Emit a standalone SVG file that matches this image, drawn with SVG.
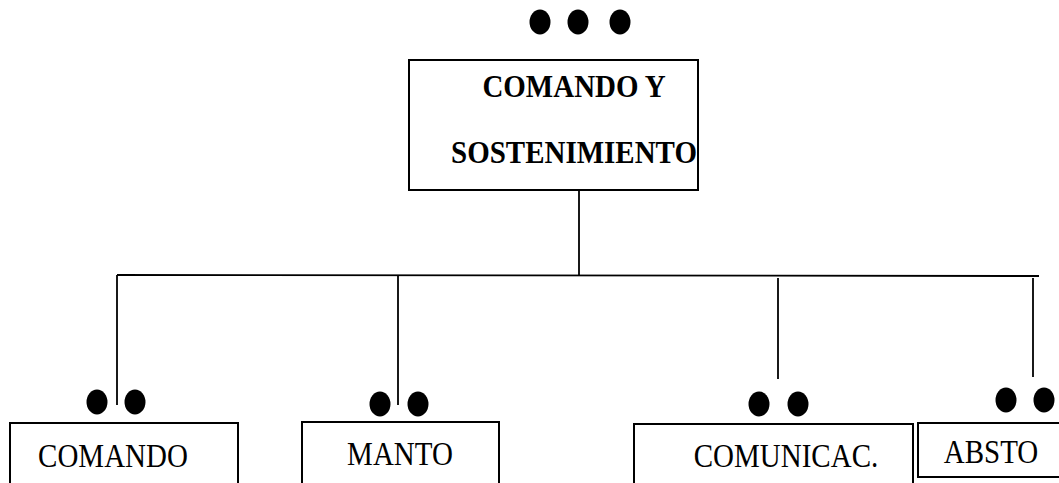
<svg xmlns="http://www.w3.org/2000/svg" width="1059" height="483" viewBox="0 0 1059 483">
<style>
.box{fill:#fff;stroke:#000;stroke-width:2}
.ln{stroke:#000;stroke-width:1.8;fill:none}
.dot{fill:#000}
.b{font-family:"Liberation Serif","Times New Roman",serif;font-weight:bold;font-size:29px;fill:#000}
.r{font-family:"Liberation Serif","Times New Roman",serif;font-size:29px;fill:#000}
</style>
<rect width="1059" height="483" fill="#fff"/>
<g id="connectors">
<line class="ln" x1="579" y1="190" x2="579" y2="275"/>
<line class="ln" x1="117" y1="275" x2="1039" y2="276"/>
<line class="ln" x1="117" y1="275" x2="117" y2="405"/>
<line class="ln" x1="398" y1="275" x2="398" y2="405"/>
<line class="ln" x1="778" y1="278" x2="778" y2="379"/>
<line class="ln" x1="1033" y1="278" x2="1033" y2="377"/>
</g>
<g id="top">
<ellipse class="dot" cx="540" cy="22" rx="10.5" ry="12.5"/>
<ellipse class="dot" cx="578" cy="22" rx="10.5" ry="12.5"/>
<ellipse class="dot" cx="620" cy="22" rx="10.5" ry="12.5"/>
<rect class="box" x="409" y="60" width="289" height="130"/>
<text class="b" transform="translate(574,97) scale(1,1.12)" text-anchor="middle">COMANDO Y</text>
<text class="b" transform="translate(574,163) scale(1,1.12)" text-anchor="middle">SOSTENIMIENTO</text>
</g>
<g id="comando">
<ellipse class="dot" cx="97" cy="402" rx="10.5" ry="12.5"/>
<ellipse class="dot" cx="135" cy="402" rx="10.5" ry="12.5"/>
<rect class="box" x="10" y="423" width="228" height="70"/>
<text class="r" transform="translate(113,467) scale(1,1.15)" text-anchor="middle">COMANDO</text>
</g>
<g id="manto">
<ellipse class="dot" cx="380" cy="404" rx="10.5" ry="12.5"/>
<ellipse class="dot" cx="418" cy="404" rx="10.5" ry="12.5"/>
<rect class="box" x="302" y="422" width="197" height="70"/>
<text class="r" transform="translate(400,465) scale(1,1.15)" text-anchor="middle">MANTO</text>
</g>
<g id="comunicac">
<ellipse class="dot" cx="759" cy="404" rx="10.5" ry="12.5"/>
<ellipse class="dot" cx="798" cy="404" rx="10.5" ry="12.5"/>
<rect class="box" x="634" y="424" width="279" height="70"/>
<text class="r" transform="translate(786,467) scale(1,1.15)" text-anchor="middle">COMUNICAC.</text>
</g>
<g id="absto">
<ellipse class="dot" cx="1006" cy="400" rx="10.5" ry="12.5"/>
<ellipse class="dot" cx="1044" cy="400" rx="10.5" ry="12.5"/>
<rect class="box" x="918" y="423" width="160" height="54"/>
<text class="r" transform="translate(991,463) scale(1,1.15)" text-anchor="middle">ABSTO</text>
</g>
</svg>
